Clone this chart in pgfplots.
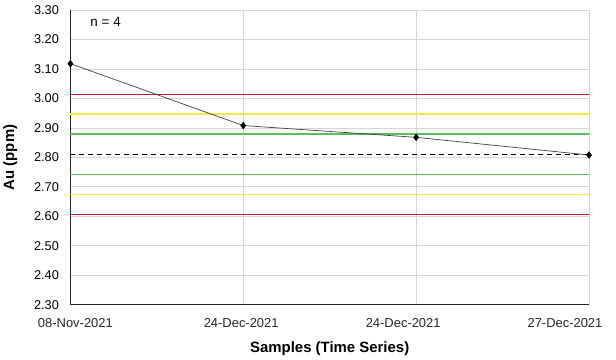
\documentclass[border=0pt]{standalone}
\usepackage{pgfplots}
\pgfplotsset{compat=1.18}
\usepackage{fontspec}
\setmainfont{Liberation Sans}
\usetikzlibrary{calc}
\begin{document}
\begin{tikzpicture}[x=1bp,y=1bp]
\begin{axis}[
  scale only axis,
  width=519bp, height=295bp,
  xmin=0, xmax=3, ymin=2.3, ymax=3.3,
  xtick={0,1,2,3},
  xticklabels={},
  extra x ticks={0.029,0.988,1.925,2.861},
  extra x tick labels={08-Nov-2021,24-Dec-2021,24-Dec-2021,27-Dec-2021},
  extra x tick style={grid=none, major tick length=0pt, xticklabel style={yshift=-10bp, font=\fontsize{13}{15}\selectfont, color=black!85}},
  ytick={2.3,2.4,...,3.31},
  yticklabel style={/pgf/number format/fixed, /pgf/number format/fixed zerofill, /pgf/number format/precision=2, xshift=-8bp, font=\fontsize{12.8}{15}\selectfont},
  /pgf/number format/assume math mode=true,
  major tick length=0pt,
  axis x line=bottom, axis y line=left,
  axis line style={-, black!85, line width=1pt},
  grid=major,
  major grid style={color={rgb,255:red,215;green,215;blue,215}, line width=0.8pt},
  xlabel={\textbf{Samples (Time Series)}},
  ylabel={\textbf{Au (ppm)}},
  label style={font=\fontsize{15}{17}\selectfont},
  xlabel style={yshift=-7bp},
  ylabel style={yshift=10bp},
  clip=false,
]
\addplot[color={rgb,255:red,200;green,30;blue,40}, line width=1.4pt, forget plot] coordinates {(0,3.014) (3,3.014)};
\addplot[color={rgb,255:red,250;green,232;blue,60}, line width=1.8pt, forget plot] coordinates {(0,2.946) (3,2.946)};
\addplot[color={rgb,255:red,90;green,190;blue,90}, line width=1.3pt, forget plot] coordinates {(0,2.879) (3,2.879)};
\addplot[color=black, line width=1.1pt, dash pattern=on 5bp off 4bp, forget plot] coordinates {(0,2.811) (3,2.811)};
\addplot[color={rgb,255:red,90;green,190;blue,90}, line width=1.3pt, forget plot] coordinates {(0,2.742) (3,2.742)};
\addplot[color={rgb,255:red,250;green,232;blue,60}, line width=1.8pt, forget plot] coordinates {(0,2.674) (3,2.674)};
\addplot[color={rgb,255:red,200;green,30;blue,40}, line width=1.4pt, forget plot] coordinates {(0,2.606) (3,2.606)};
\addplot[color=black!75, line width=0.7pt, mark=diamond*, mark size=3.2bp, mark options={draw=black, fill=black}, forget plot] coordinates {
(0,3.118) (1,2.908) (2,2.868) (3,2.808)};
\node[anchor=west, font=\fontsize{13.5}{15}\selectfont] at (rel axis cs:0.032,0.958) {n = 4};
\end{axis}
\path ($(current axis.south west)+(-70bp,-55bp)$) rectangle ($(current axis.north east)+(27bp,10bp)$);
\end{tikzpicture}
\end{document}
